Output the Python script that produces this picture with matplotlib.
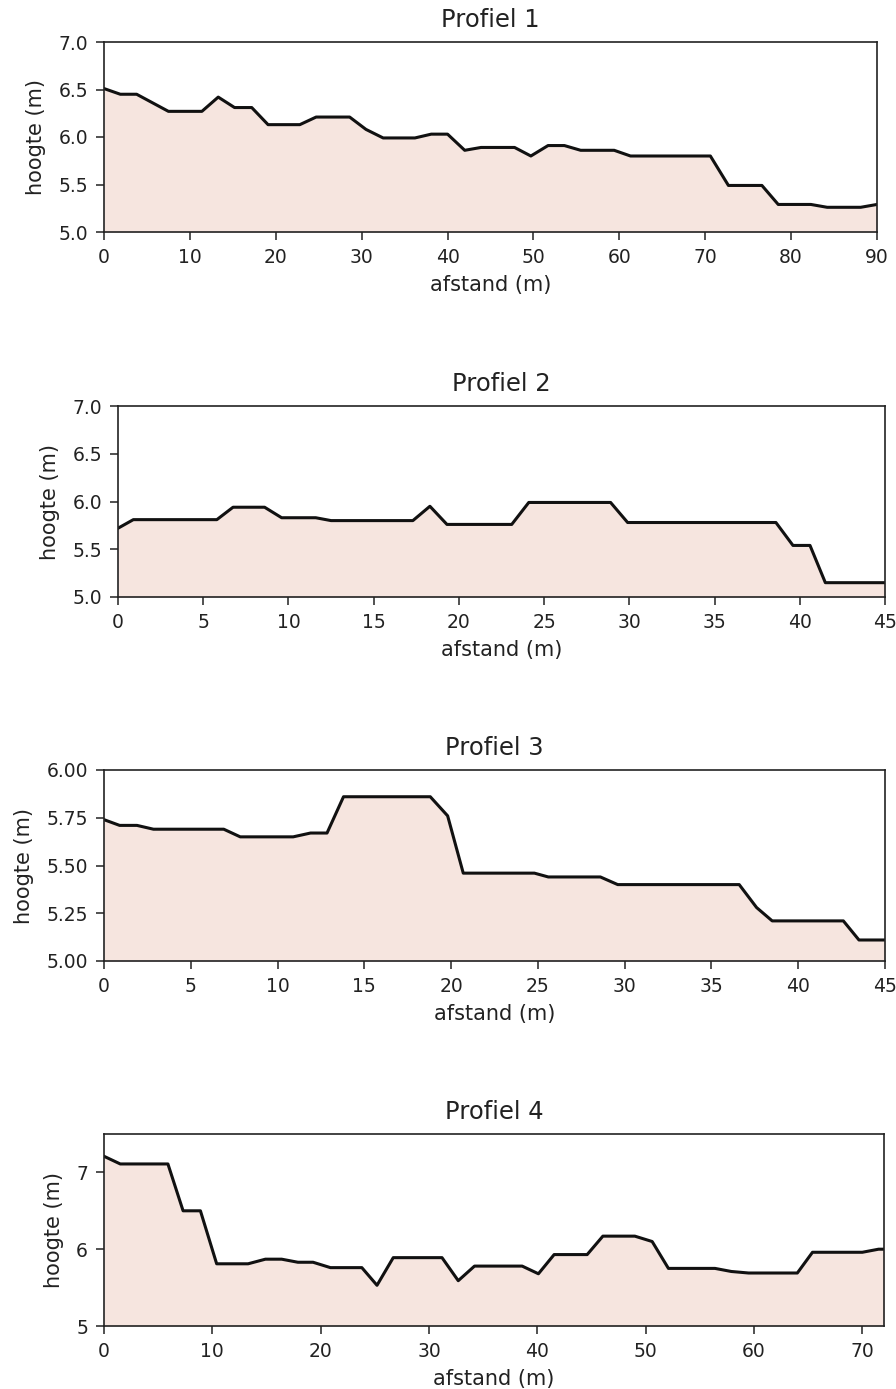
import matplotlib
matplotlib.use("Agg")
import matplotlib.pyplot as plt

# Profiel 1
d1 = [0, 1.9, 3.8, 7.5, 11.4, 13.3, 15.2, 17.2, 19.1, 22.8, 24.7, 28.6, 30.5, 32.5,
      36.2, 38.1, 40.0, 42.0, 43.9, 47.8, 49.7, 51.7, 53.6, 55.5, 59.4, 61.3, 70.6,
      72.7, 76.6, 78.5, 82.3, 84.2, 88.1, 90.0]
h1 = [6.51, 6.45, 6.45, 6.27, 6.27, 6.42, 6.31, 6.31, 6.13, 6.13, 6.21, 6.21, 6.08, 5.99,
      5.99, 6.03, 6.03, 5.86, 5.89, 5.89, 5.80, 5.91, 5.91, 5.86, 5.86, 5.80, 5.80,
      5.49, 5.49, 5.29, 5.29, 5.26, 5.26, 5.29]

# Profiel 2
d2 = [0, 0.9, 5.8, 6.75, 8.6, 9.6, 11.6, 12.5, 17.3, 18.3, 19.3, 23.1, 24.1, 28.9,
      29.9, 38.6, 39.6, 40.6, 41.5, 45.0]
h2 = [5.72, 5.81, 5.81, 5.94, 5.94, 5.83, 5.83, 5.80, 5.80, 5.95, 5.76, 5.76, 5.99, 5.99,
      5.78, 5.78, 5.54, 5.54, 5.15, 5.15]

# Profiel 3
d3 = [0, 0.9, 1.9, 2.85, 6.9, 7.85, 10.9, 11.9, 12.85, 13.8, 18.8, 19.8, 20.7, 24.8,
      25.6, 28.6, 29.6, 36.6, 37.6, 38.5, 42.6, 43.5, 45.0]
h3 = [5.74, 5.71, 5.71, 5.69, 5.69, 5.65, 5.65, 5.67, 5.67, 5.86, 5.86, 5.76, 5.46, 5.46,
      5.44, 5.44, 5.40, 5.40, 5.28, 5.21, 5.21, 5.11, 5.11]

# Profiel 4
d4 = [0, 1.5, 5.9, 7.3, 8.9, 10.4, 13.3, 14.9, 16.4, 17.9, 19.3, 20.9, 23.8, 25.2,
      26.7, 31.2, 32.7, 34.2, 38.6, 40.1, 41.55, 44.6, 46.05, 49.0, 50.6, 52.1, 56.4,
      57.9, 59.5, 64.0, 65.4, 70.0, 71.5, 72.0]
h4 = [7.21, 7.11, 7.11, 6.50, 6.50, 5.81, 5.81, 5.87, 5.87, 5.83, 5.83, 5.76, 5.76, 5.53,
      5.89, 5.89, 5.59, 5.78, 5.78, 5.68, 5.93, 5.93, 6.17, 6.17, 6.10, 5.75, 5.75,
      5.71, 5.69, 5.69, 5.96, 5.96, 6.00, 6.00]

titles = ["Profiel 1", "Profiel 2", "Profiel 3", "Profiel 4"]
xlims = [(0, 90), (0, 45), (0, 45), (0, 72)]
ylims = [(5.0, 7.0), (5.0, 7.0), (5.0, 6.0), (5.0, 7.5)]
yticks = [[5.0, 5.5, 6.0, 6.5, 7.0], [5.0, 5.5, 6.0, 6.5, 7.0],
          [5.0, 5.25, 5.5, 5.75, 6.0], [5, 6, 7]]
yfmt = ["%.1f", "%.1f", "%.2f", "%d"]
xticks = [list(range(0, 91, 10)), list(range(0, 46, 5)), list(range(0, 46, 5)),
          list(range(0, 71, 10))]

W, H = 896, 1389
boxes = [(104, 877, 42, 232), (118, 885, 406, 597), (104, 885, 770, 961), (104, 884, 1134, 1326)]

fig = plt.figure(figsize=(W / 100, H / 100), dpi=100)
fill_color = "#f6e5df"
text_color = "#222222"
data = [(d1, h1), (d2, h2), (d3, h3), (d4, h4)]
for i, ((d, h), (l, r, t, b)) in enumerate(zip(data, boxes)):
    ax = fig.add_axes([l / W, 1 - b / H, (r - l) / W, (b - t) / H])
    ax.fill_between(d, h, ylims[i][0], color=fill_color, lw=0)
    ax.plot(d, h, color="#111111", lw=2.2)
    ax.set_xlim(*xlims[i])
    ax.set_ylim(*ylims[i])
    ax.set_xticks(xticks[i])
    ax.set_yticks(yticks[i])
    ax.set_yticklabels([yfmt[i] % v for v in yticks[i]])
    ax.tick_params(labelsize=13.5, length=5.5, width=1.1, pad=6,
                   labelcolor=text_color, color="#222222")
    ax.set_title(titles[i], fontsize=17.5, pad=10.5, color=text_color)
    ax.set_xlabel("afstand (m)", fontsize=15, labelpad=6, color=text_color)
    ax.set_ylabel("hoogte (m)", fontsize=15, labelpad=9, color=text_color)
    for s in ax.spines.values():
        s.set_linewidth(1.2)
        s.set_color("#222222")

fig.savefig("out.png", dpi=100)
